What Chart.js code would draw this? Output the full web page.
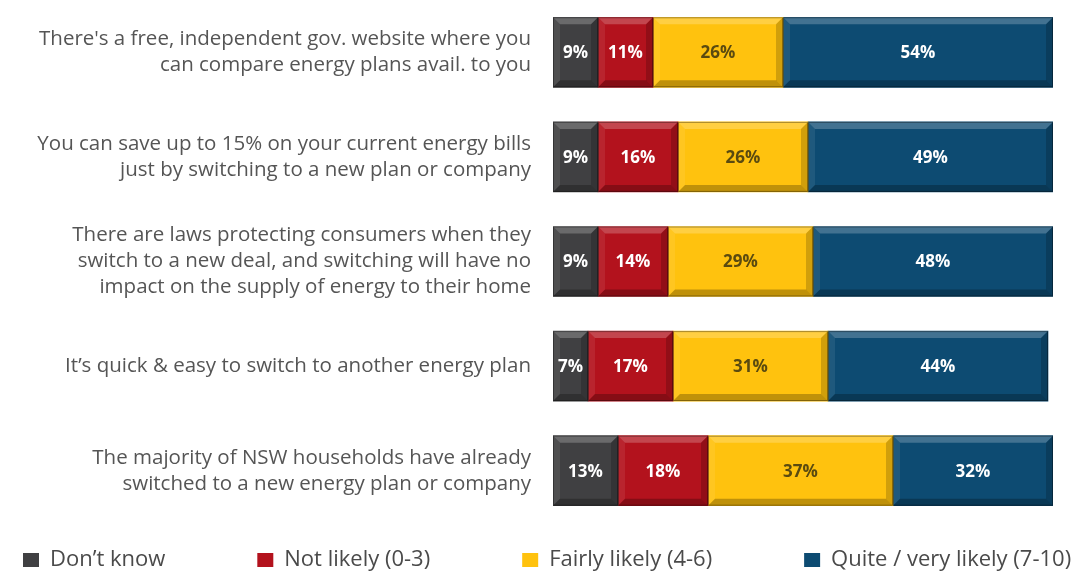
<!DOCTYPE html>
<html>
<head>
<meta charset="utf-8">
<script src="https://cdn.jsdelivr.net/npm/chart.js@4/dist/chart.umd.min.js"></script>
<style>
  html, body { margin: 0; padding: 0; background: #fff; }
  #wrap { width: 1084px; height: 573px; }
</style>
</head>
<body>
<div id="wrap"><canvas id="chart"></canvas></div>
<script>
// dati
var categorie = [
  ["There's a free, independent gov. website where you", "can compare energy plans avail. to you"],
  ["You can save up to 15% on your current energy bills", "just by switching to a new plan or company"],
  ["There are laws protecting consumers when they", "switch to a new deal, and switching will have no", "impact on the supply of energy to their home"],
  ["It\u2019s quick & easy to switch to another energy plan"],
  ["The majority of NSW households have already", "switched to a new energy plan or company"]
];
var nonSo = [9, 9, 9, 7, 13];
var pocoProbabile = [11, 16, 14, 17, 18];
var abbastanza = [26, 26, 29, 31, 37];
var molto = [54, 49, 48, 44, 32];

var colori = ['#404042', '#b3121d', '#ffc20e', '#0d4b72'];
var coloriTesto = ['#ffffff', '#ffffff', '#5a4a10', '#ffffff'];

var legendPadding = 92;
var legendFont = 22;

// effetto rilievo sulle barre + etichette
var bevelPlugin = {
  id: 'bevel',
  afterLayout: function(chart) {
    // legenda su una riga sola, in basso
    var leg = chart.legend;
    leg.left = 23 - legendPadding;
    leg.right = 3000;
    leg.top = 560 - legendPadding - legendFont / 2;
    leg.bottom = chart.height;
  },
  afterDatasetsDraw: function(chart) {
    var ctx = chart.ctx;
    var b = 7;
    chart.data.datasets.forEach(function(ds, i) {
      chart.getDatasetMeta(i).data.forEach(function(bar) {
        var x0 = Math.min(bar.base, bar.x), x1 = Math.max(bar.base, bar.x);
        var y0 = bar.y - bar.height / 2, y1 = bar.y + bar.height / 2;
        ctx.save();
        ctx.fillStyle = 'rgba(255,255,255,0.22)';
        ctx.beginPath();
        ctx.moveTo(x0, y0); ctx.lineTo(x1, y0); ctx.lineTo(x1 - b, y0 + b); ctx.lineTo(x0 + b, y0 + b);
        ctx.closePath(); ctx.fill();
        ctx.fillStyle = 'rgba(255,255,255,0.08)';
        ctx.beginPath();
        ctx.moveTo(x0, y0); ctx.lineTo(x0 + b, y0 + b); ctx.lineTo(x0 + b, y1 - b); ctx.lineTo(x0, y1);
        ctx.closePath(); ctx.fill();
        ctx.fillStyle = 'rgba(0,0,0,0.25)';
        ctx.beginPath();
        ctx.moveTo(x0, y1); ctx.lineTo(x1, y1); ctx.lineTo(x1 - b, y1 - b); ctx.lineTo(x0 + b, y1 - b);
        ctx.closePath(); ctx.fill();
        ctx.fillStyle = 'rgba(0,0,0,0.18)';
        ctx.beginPath();
        ctx.moveTo(x1, y0); ctx.lineTo(x1 - b, y0 + b); ctx.lineTo(x1 - b, y1 - b); ctx.lineTo(x1, y1);
        ctx.closePath(); ctx.fill();
        ctx.strokeStyle = 'rgba(0,0,0,0.35)';
        ctx.lineWidth = 1;
        ctx.strokeRect(x0 + 0.5, y0 + 0.5, x1 - x0 - 1, y1 - y0 - 1);
        ctx.restore();
      });
    });
    ctx.save();
    ctx.font = 'bold 17px "Open Sans"';
    ctx.textAlign = 'center';
    ctx.textBaseline = 'middle';
    chart.data.datasets.forEach(function(ds, i) {
      ctx.fillStyle = coloriTesto[i];
      chart.getDatasetMeta(i).data.forEach(function(bar, j) {
        ctx.fillText(ds.data[j] + '%', (bar.base + bar.x) / 2, bar.y + 1);
      });
    });
    ctx.restore();
  }
};

var ctx = document.getElementById('chart');
var chart = new Chart(ctx, {
  type: 'bar',
  data: {
    labels: categorie,
    datasets: [
      { label: 'Don\u2019t know', data: nonSo, backgroundColor: colori[0] },
      { label: 'Not likely (0-3)', data: pocoProbabile, backgroundColor: colori[1] },
      { label: 'Fairly likely (4-6)', data: abbastanza, backgroundColor: colori[2] },
      { label: 'Quite / very likely (7-10)', data: molto, backgroundColor: colori[3] }
    ]
  },
  options: {
    indexAxis: 'y',
    responsive: true,
    maintainAspectRatio: false,
    animation: false,
    layout: { padding: { left: 0, right: 31, top: -5, bottom: 0 } },
    elements: { bar: { borderWidth: 0 } },
    datasets: { bar: { barThickness: 70 } },
    scales: {
      x: { stacked: true, min: 0, max: 100, display: false },
      y: {
        stacked: true,
        grid: { display: false, drawTicks: false },
        border: { display: false },
        ticks: { color: '#555555', font: { family: '"Open Sans"', size: 20.5, lineHeight: 1.27 }, padding: 22 },
        afterFit: function(scale) {
          scale.width = 553;
          scale.paddingTop = 0;
          scale.paddingBottom = 0;
        }
      }
    },
    plugins: {
      legend: {
        position: 'bottom',
        align: 'start',
        maxHeight: 50,
        labels: {
          color: '#4a4a4a',
          font: { family: '"Open Sans"', size: legendFont },
          boxWidth: 16, boxHeight: 14,
          padding: legendPadding
        }
      },
      tooltip: { enabled: false }
    }
  },
  plugins: [bevelPlugin]
});
</script>
</body>
</html>
